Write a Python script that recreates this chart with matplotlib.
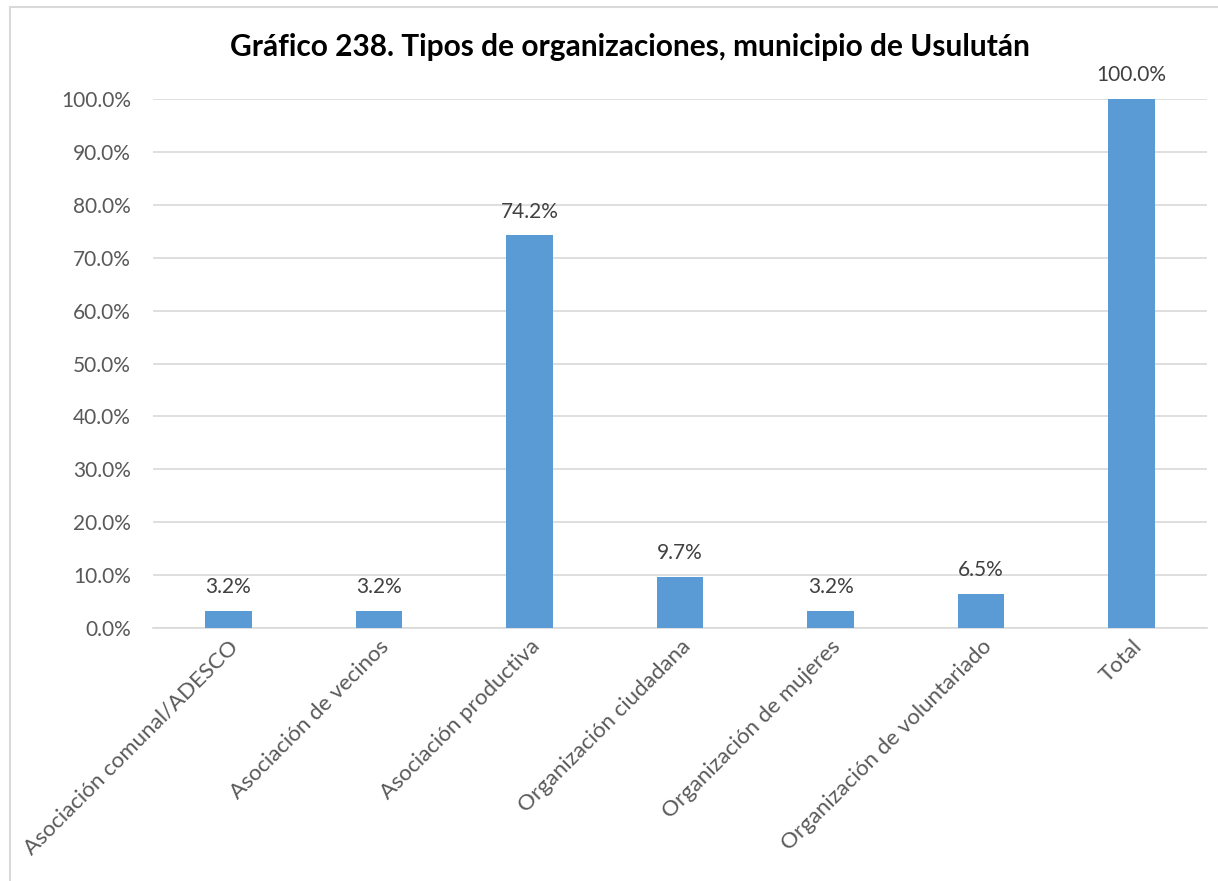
import matplotlib.pyplot as plt
from matplotlib.patches import Rectangle

categorias = ['Asociación comunal/ADESCO', 'Asociación de vecinos', 'Asociación productiva',
              'Organización ciudadana', 'Organización de mujeres', 'Organización de voluntariado',
              'Total']
valores = [3.2, 3.2, 74.2, 9.7, 3.2, 6.5, 100.0]
yticks = [0, 10, 20, 30, 40, 50, 60, 70, 80, 90, 100]

plt.rcParams['font.family'] = ['Lato', 'DejaVu Sans']

fig = plt.figure(figsize=(12.18, 8.81), dpi=100)
ax = fig.add_axes([153/1218, 1 - 628/881, (1207 - 153)/1218, (628 - 99)/881])

x = range(len(categorias))
ax.bar(x, valores, width=0.31, color='#5b9bd5', zorder=3)
for xi, v in zip(x, valores):
    ax.text(xi, v + 2.6, f'{v:.1f}%', ha='center', va='bottom', fontsize=15, color='#404040')

ax.set_xlim(-0.5, len(categorias) - 0.5)
ax.set_ylim(0, 100)
ax.set_yticks(yticks)
ax.set_yticklabels([f'{t:.1f}%' for t in yticks], fontsize=15, color='#595959')
ax.set_xticks(list(x))
ax.set_xticklabels(categorias, rotation=45, ha='right', rotation_mode='anchor',
                   fontsize=16, color='#595959')
ax.tick_params(axis='both', length=0)
ax.tick_params(axis='y', pad=16)
ax.tick_params(axis='x', pad=6)
ax.grid(axis='y', color='#d9d9d9', linewidth=1.2, zorder=0)
for s in ['top', 'right', 'left']:
    ax.spines[s].set_visible(False)
ax.spines['bottom'].set_color('#d9d9d9')
ax.spines['bottom'].set_linewidth(1.2)

fig.text(630/1218, 1 - 47/881, 'Gráfico 238. Tipos de organizaciones, municipio de Usulután',
         ha='center', va='center', fontsize=21.5, fontweight='bold', color='black')

fig.patches.append(Rectangle((10/1218, -0.05), 1.1, 1 - 7/881 + 0.05, transform=fig.transFigure,
                             fill=False, edgecolor='#d9d9d9', linewidth=1.5))

fig.savefig('out.png', dpi=100)
